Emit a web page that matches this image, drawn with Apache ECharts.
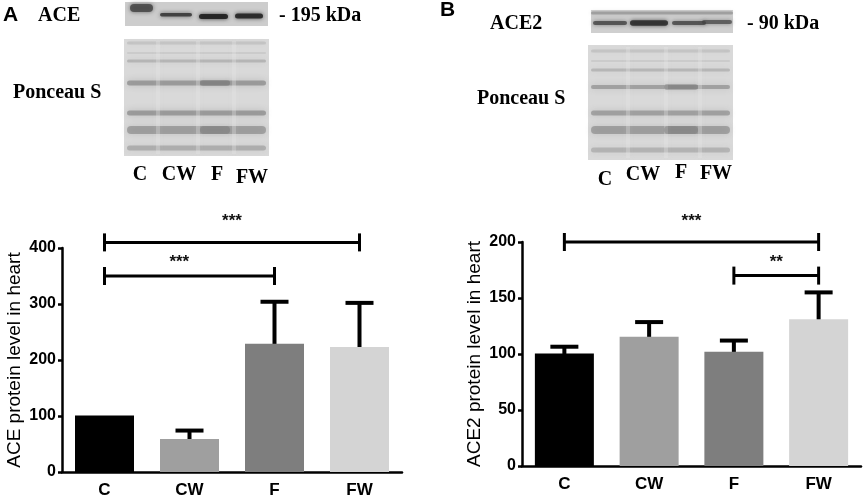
<!DOCTYPE html>
<html>
<head>
<meta charset="utf-8">
<script src="https://cdn.jsdelivr.net/npm/echarts@6/dist/echarts.min.js"></script>
<style>
  html, body { margin: 0; padding: 0; background: #fff; }
  #chart { width: 865px; height: 501px; }
</style>
</head>
<body>
<div id="chart"></div>
<script>
// groups
const categories = ['C', 'CW', 'F', 'FW']

// panel A - ACE (mean, mean + SEM)
const aceMean = [101, 59, 229, 223]
const aceUpper = [101, 74, 304, 302]
const aceTicks = [0, 100, 200, 300, 400]

// panel B - ACE2
const ace2Mean = [100.5, 115.5, 102, 131]
const ace2Upper = [106.5, 128.5, 112, 155]
const ace2Ticks = [0, 50, 100, 150, 200]

// significance brackets: [from, to, bracket value, star position (category units), star value, stars]
const aceBrackets = [
    [0, 3, 410, 1.5, 455, '***'],
    [0, 2, 350, 0.88, 381, '***']
]
const ace2Brackets = [
    [0, 3, 200, 1.5, 222, '***'],
    [2, 3, 170, 2.5, 185, '**']
]

const barColors = ['#000000', '#9f9f9f', '#7e7e7e', '#d4d4d4']

const serif = '"Liberation Serif", "DejaVu Serif", serif'
const sans = '"Liberation Sans", Arial, sans-serif'

const errorRender = (params, api) => {
    const i = api.value(0)
    const top = api.coord([i, api.value(1)])
    const cap = api.coord([i, api.value(2)])
    if (api.value(2) <= api.value(1)) return null
    const style = { stroke: '#000', lineWidth: 4 }
    return {
        type: 'group',
        children: [
            { type: 'line', shape: { x1: top[0], y1: top[1] + 6, x2: cap[0], y2: cap[1] }, style },
            { type: 'line', shape: { x1: cap[0] - 14, y1: cap[1], x2: cap[0] + 14, y2: cap[1] }, style }
        ]
    }
}

const bracketRender = (params, api, stars) => {
    const i0 = api.value(0), i1 = api.value(1)
    const a = api.coord([i0, api.value(2)])
    const b = api.coord([i1, api.value(2)])
    const t = (api.value(3) - i0) / (i1 - i0)
    const sx = a[0] + (b[0] - a[0]) * t
    const sy = api.coord([i0, api.value(4)])[1]
    const style = { stroke: '#000', lineWidth: 3 }
    return {
        type: 'group',
        children: [
            { type: 'line', shape: { x1: a[0], y1: a[1], x2: b[0], y2: b[1] }, style },
            { type: 'line', shape: { x1: a[0], y1: a[1] - 9, x2: a[0], y2: a[1] + 9 }, style },
            { type: 'line', shape: { x1: b[0], y1: b[1] - 9, x2: b[0], y2: b[1] + 9 }, style },
            {
                type: 'text',
                style: {
                    text: stars, x: sx, y: sy + 4,
                    align: 'center', verticalAlign: 'middle',
                    font: 'bold 17px ' + sans, fill: '#111'
                }
            }
        ]
    }
}

// blot drawing helpers (decorative, no data)
const band = (x, y, w, h, color, blur) => ({
    type: 'rect',
    shape: { x, y: y - h / 2, width: w, height: h, r: h / 2 },
    style: { fill: color, shadowBlur: blur, shadowColor: color }
})

const ponceau = (x, y, w, h, rows, lanes) => {
    const els = [{ type: 'rect', shape: { x, y, width: w, height: h }, style: { fill: '#d9d9d9' } }]
    rows.forEach(r => {
        els.push(band(x + 3, y + r[0], w - 6, r[1], 'rgba(105,105,105,' + r[2] + ')', 6))
    })
    lanes.forEach(lx => {
        els.push({ type: 'rect', shape: { x: x + lx - 2, y: y + 2, width: 4, height: h - 4 },
            style: { fill: 'rgba(232,232,232,0.3)', shadowBlur: 6, shadowColor: 'rgba(232,232,232,0.3)' } })
    })
    return els
}

const label = (text, x, y, size, font, align) => ({
    type: 'text',
    style: {
        text, x, y, align: align || 'center', verticalAlign: 'middle',
        font: 'bold ' + size + 'px ' + font, fill: '#000'
    }
})

const graphics = [
    // panel A
    label('A', 3, 15, 21, sans, 'left'),
    label('ACE', 38, 16, 20, serif, 'left'),
    label('- 195 kDa', 279, 16, 20, serif, 'left'),
    { type: 'rect', shape: { x: 125, y: 2, width: 143, height: 24 }, style: { fill: '#cdcdcd' } },
    band(130, 8, 23, 8, 'rgba(70,70,70,0.85)', 4),
    band(160, 14.7, 32, 3.5, 'rgba(45,45,45,0.8)', 4),
    band(199, 16.5, 29, 5, 'rgba(30,30,30,0.9)', 4),
    band(235, 16, 28, 5, 'rgba(30,30,30,0.85)', 4),
    ...ponceau(124, 39, 145, 117,
        [[4, 3, 0.18], [14, 2, 0.12], [22, 3, 0.3], [44, 5, 0.5], [74, 5, 0.5], [91, 8, 0.45], [109, 5, 0.35]],
        [34, 74, 110]),
    band(200, 83, 30, 6, 'rgba(90,90,90,0.3)', 4),
    band(200, 130, 30, 8, 'rgba(90,90,90,0.25)', 4),
    label('Ponceau S', 13, 93, 20, serif, 'left'),
    label('C', 140, 175, 20, serif),
    label('CW', 179, 175, 20, serif),
    label('F', 217, 175, 20, serif),
    label('FW', 252, 178, 20, serif),

    // panel B
    label('B', 440, 10, 21, sans, 'left'),
    label('ACE2', 490, 24, 20, serif, 'left'),
    label('- 90 kDa', 747, 24, 20, serif, 'left'),
    { type: 'rect', shape: { x: 591, y: 10, width: 142, height: 23 }, style: { fill: '#cfcfcf' } },
    band(591, 13, 142, 3, 'rgba(100,100,100,0.4)', 4),
    band(593, 23, 34, 4, 'rgba(60,60,60,0.75)', 4),
    band(630, 23, 38, 5.5, 'rgba(40,40,40,0.85)', 4),
    band(672, 23, 34, 4, 'rgba(60,60,60,0.75)', 4),
    band(702, 22, 30, 4, 'rgba(65,65,65,0.7)', 4),
    ...ponceau(588, 45, 145, 115,
        [[6, 3, 0.18], [16, 2, 0.12], [25, 3, 0.28], [42, 4, 0.45], [68, 5, 0.45], [85, 8, 0.45], [105, 5, 0.3]],
        [40, 78, 112]),
    band(664, 87, 34, 6, 'rgba(90,90,90,0.3)', 4),
    band(664, 130, 34, 8, 'rgba(90,90,90,0.25)', 4),
    label('Ponceau S', 477, 99, 20, serif, 'left'),
    label('C', 605, 180, 20, serif),
    label('CW', 643, 175, 20, serif),
    label('F', 681, 173, 20, serif),
    label('FW', 716, 174, 20, serif)
]

const xAxisBase = (gridIndex) => ({
    type: 'category',
    gridIndex,
    data: categories,
    axisLine: { lineStyle: { color: '#000', width: 2.5 } },
    axisTick: { show: false },
    axisLabel: { color: '#000', fontSize: 17, fontWeight: 'bold', fontFamily: sans, margin: 10 }
})

const yAxisBase = (gridIndex, ticks, name) => ({
    type: 'value',
    gridIndex,
    min: ticks[0],
    max: ticks[ticks.length - 1],
    interval: ticks[1] - ticks[0],
    name,
    nameLocation: 'middle',
    nameGap: 38,
    nameTextStyle: { color: '#000', fontSize: 19, fontFamily: sans },
    axisLine: { show: true, lineStyle: { color: '#000', width: 2.5 } },
    axisTick: { show: true, length: 4, lineStyle: { color: '#000', width: 2.5 } },
    axisLabel: { color: '#000', fontSize: 16, fontWeight: 'bold', fontFamily: sans, margin: 6 },
    splitLine: { show: false }
})

const barData = (values) => values.map((v, i) => ({ value: v, itemStyle: { color: barColors[i] } }))

const initChart = () => {
    const myChart = echarts.init(document.getElementById('chart'))
    myChart.setOption({
        animation: false,
        graphic: graphics,
        grid: [
            { left: 62, top: 248, width: 340, height: 224 },
            { left: 522, top: 242, width: 339, height: 224 }
        ],
        xAxis: [xAxisBase(0), xAxisBase(1)],
        yAxis: [
            yAxisBase(0, aceTicks, 'ACE protein level in heart'),
            yAxisBase(1, ace2Ticks, 'ACE2 protein level in heart')
        ],
        series: [
            { type: 'bar', xAxisIndex: 0, yAxisIndex: 0, barWidth: 59, data: barData(aceMean) },
            {
                type: 'custom', xAxisIndex: 0, yAxisIndex: 0, renderItem: errorRender, clip: false,
                encode: { x: 0, y: [1, 2] },
                data: categories.map((c, i) => [i, aceMean[i], aceUpper[i]])
            },
            {
                type: 'custom', xAxisIndex: 0, yAxisIndex: 0, clip: false, encode: { x: 0, y: 2 },
                renderItem: (params, api) => bracketRender(params, api, aceBrackets[params.dataIndex][5]),
                data: aceBrackets.map(d => d.slice(0, 5))
            },
            { type: 'bar', xAxisIndex: 1, yAxisIndex: 1, barWidth: 59, data: barData(ace2Mean) },
            {
                type: 'custom', xAxisIndex: 1, yAxisIndex: 1, renderItem: errorRender, clip: false,
                encode: { x: 0, y: [1, 2] },
                data: categories.map((c, i) => [i, ace2Mean[i], ace2Upper[i]])
            },
            {
                type: 'custom', xAxisIndex: 1, yAxisIndex: 1, clip: false, encode: { x: 0, y: 2 },
                renderItem: (params, api) => bracketRender(params, api, ace2Brackets[params.dataIndex][5]),
                data: ace2Brackets.map(d => d.slice(0, 5))
            }
        ]
    })
}

window.addEventListener('load', () => {
    initChart()
})
</script>
</body>
</html>
